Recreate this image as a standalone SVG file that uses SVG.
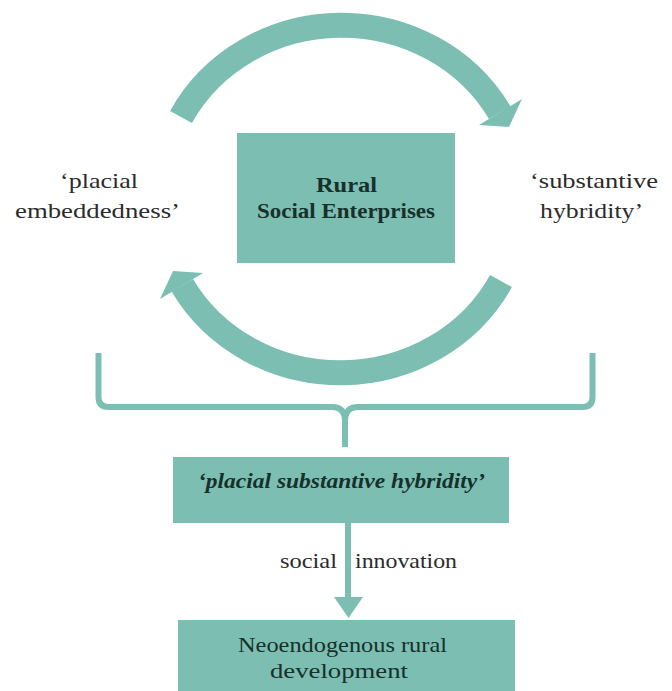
<svg xmlns="http://www.w3.org/2000/svg" width="672" height="691" viewBox="0 0 672 691">
  <style>
    .box { fill: #7cbfb2; }
    .band { fill: none; stroke: #7cbfb2; stroke-width: 25; stroke-linecap: butt; }
    .head { fill: #7cbfb2; }
    .brace { fill: none; stroke: #7cbfb2; stroke-width: 6; stroke-linejoin: round; }
    text { font-family: 'Liberation Serif', 'Times New Roman', Times, serif; }
    .lbl { font-size: 21px; fill: #2b2b2b; }
    .inbox { font-size: 22px; fill: #17302b; }
    .bold { font-weight: bold; }
    .bi { font-weight: bold; font-style: italic; font-size: 20px; }
  </style>
  <defs>
    <!-- curved band arrow running clockwise over the top -->
    <g id="curvedArrow">
      <path class="band" d="M 181 117 A 181 170.5 0 0 1 499.7 112.75"/>
      <polygon class="head" points="522,99 479,125 509,127"/>
    </g>
  </defs>

  <rect width="672" height="691" fill="#ffffff"/>

  <!-- cycle arrows -->
  <g id="connectors">
    <use href="#curvedArrow"/>
    <use href="#curvedArrow" transform="rotate(180 341 199)"/>
    <!-- brace gathering the cycle -->
    <path class="brace" d="M 98.5 353 L 98.5 397 Q 98.5 407 108.5 407 L 332 407 Q 345 407 345 421 L 345 447 M 345 421 Q 345 407 358 407 L 582.5 407 Q 592.5 407 592.5 397 L 592.5 353"/>
    <!-- arrow to development box -->
    <rect class="head" x="345" y="523" width="6" height="76"/>
    <polygon class="head" points="334,597 363,597 348.5,618"/>
  </g>

  <g id="label-embeddedness">
    <text class="lbl" x="60" y="188" textLength="78" lengthAdjust="spacingAndGlyphs">‘placial</text>
    <text class="lbl" x="15" y="218" textLength="165" lengthAdjust="spacingAndGlyphs">embeddedness’</text>
  </g>

  <g id="label-hybridity">
    <text class="lbl" x="530" y="188" textLength="128" lengthAdjust="spacingAndGlyphs">‘substantive</text>
    <text class="lbl" x="540" y="218" textLength="103" lengthAdjust="spacingAndGlyphs">hybridity’</text>
  </g>

  <g id="node-rse">
    <rect class="box" x="237" y="133" width="218" height="130"/>
    <text class="inbox bold" x="316" y="192" textLength="61" lengthAdjust="spacingAndGlyphs">Rural</text>
    <text class="inbox bold" x="257" y="218" textLength="178" lengthAdjust="spacingAndGlyphs">Social Enterprises</text>
  </g>

  <g id="node-psh">
    <rect class="box" x="173" y="457" width="336" height="66"/>
    <text class="inbox bi" x="198" y="488" textLength="287" lengthAdjust="spacingAndGlyphs">‘placial substantive hybridity’</text>
  </g>

  <g id="label-social-innovation">
    <text class="lbl" x="280" y="568" font-size="22" textLength="57" lengthAdjust="spacingAndGlyphs">social</text>
    <text class="lbl" x="355" y="568" font-size="22" textLength="102" lengthAdjust="spacingAndGlyphs">innovation</text>
  </g>

  <g id="node-development">
    <rect class="box" x="178" y="620" width="337" height="71"/>
    <text class="inbox" x="238" y="652" textLength="209" lengthAdjust="spacingAndGlyphs">Neoendogenous rural</text>
    <text class="inbox" x="270" y="678" textLength="138" lengthAdjust="spacingAndGlyphs">development</text>
  </g>
</svg>
